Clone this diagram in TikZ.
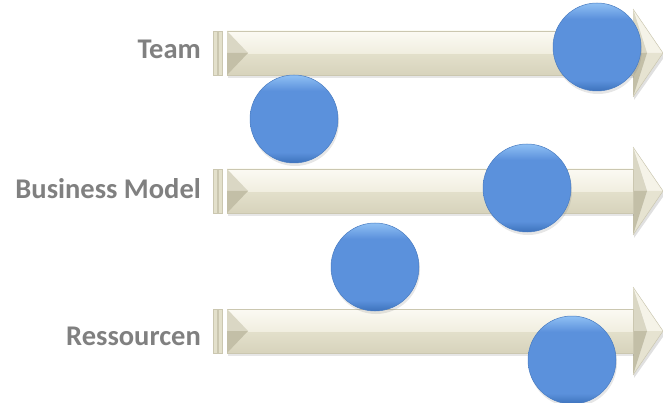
\documentclass[tikz,border=0pt]{standalone}
\usepackage{fontspec}
\setmainfont{Carlito}
\usetikzlibrary{shadows}

\definecolor{tagGray}{HTML}{808080}
\definecolor{barLight}{HTML}{FBFAF3}
\definecolor{barMid}{HTML}{F1EEE0}
\definecolor{barLow}{HTML}{E3E0CB}
\definecolor{barDark}{HTML}{D7D3BC}
\definecolor{barEdge}{HTML}{CBC7B0}
\definecolor{notchLight}{HTML}{DAD7C4}
\definecolor{notchDark}{HTML}{C3BFA7}
\definecolor{headLight}{HTML}{F5F3E8}
\definecolor{headLow}{HTML}{E6E3D1}
\definecolor{ballTop}{HTML}{8FC0F4}
\definecolor{ballMid}{HTML}{5B91DC}
\definecolor{ballBot}{HTML}{3D72BC}
\definecolor{ballEdge}{HTML}{4A7DC2}

\pgfdeclareverticalshading{barshade}{100bp}{color(0bp)=(barDark); color(25bp)=(barDark); color(49.9bp)=(barLow); color(50bp)=(barMid); color(75bp)=(barLight); color(100bp)=(barLight)}
\pgfdeclareverticalshading{ballshade}{100bp}{color(0bp)=(ballBot); color(25bp)=(ballBot); color(31bp)=(ballMid); color(66bp)=(ballMid); color(75bp)=(ballTop); color(100bp)=(ballTop)}

\begin{document}
\begin{tikzpicture}[x=1pt, y=-1pt,
    tagtext/.style={anchor=base east, inner sep=0pt, text=tagGray,
        font=\fontsize{28.5}{34}\selectfont\bfseries},
    stripe/.style={fill=barLow, draw=barEdge, line width=0.5pt},
    shaft/.style={shading=barshade, draw=barEdge, line width=0.5pt,
        drop shadow={shadow xshift=1pt, shadow yshift=-3pt, opacity=0.2}},
    ballnode/.style={circle, minimum size=88pt, inner sep=0pt, shading=ballshade,
        draw=ballEdge, line width=0.5pt,
        drop shadow={shadow xshift=1pt, shadow yshift=-3pt, opacity=0.2}}]
    \useasboundingbox (0,0) rectangle (663,403);

    % Arrows
    \foreach \yc in {53,191,331} {
        % double stripe at the tail
        \draw[stripe] (213,\yc-22) rectangle (217,\yc+22);
        \draw[stripe] (218,\yc-22) rectangle (222,\yc+22);
        % head, shadow first
        \fill[black, opacity=0.12] (634,\yc-41) -- (665,\yc+3) -- (634,\yc+47) -- cycle;
        \fill[headLight] (633,\yc-44) -- (663,\yc) -- (647,\yc) -- cycle;
        \fill[headLow] (647,\yc) -- (663,\yc) -- (633,\yc+44) -- cycle;
        \fill[notchLight] (633,\yc-44) -- (647,\yc) -- (633,\yc) -- cycle;
        \fill[notchDark] (633,\yc) -- (647,\yc) -- (633,\yc+44) -- cycle;
        \draw[barEdge, line width=0.5pt] (633,\yc-44) -- (663,\yc) -- (633,\yc+44);
        % shaft
        \draw[shaft] (227,\yc-22) rectangle (633,\yc+22);
        % notch at the tail
        \fill[notchLight] (227,\yc-22) -- (248,\yc) -- (227,\yc) -- cycle;
        \fill[notchDark] (227,\yc) -- (248,\yc) -- (227,\yc+22) -- cycle;
    }

    % Labels
    \node[tagtext] (team) at (201,59) {Team};
    \node[tagtext] (model) at (201,199) {Business Model};
    \node[tagtext] (res) at (201,345) {Ressourcen};

    % Balls
    \node[ballnode] (b1) at (597,47) {};
    \node[ballnode] (b2) at (294,119) {};
    \node[ballnode] (b3) at (527,188) {};
    \node[ballnode] (b4) at (375,267) {};
    \node[ballnode] (b5) at (572,360) {};
\end{tikzpicture}
\end{document}
